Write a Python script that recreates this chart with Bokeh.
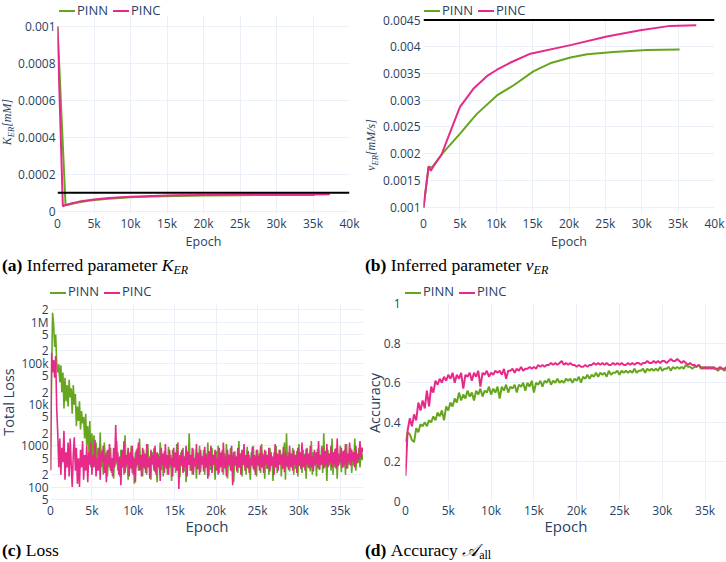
from bokeh.plotting import figure
from bokeh.models import FixedTicker, Range1d, Div, Span
from bokeh.layouts import column, row
from bokeh.embed import file_html
from bokeh.resources import INLINE

SERIES = ["PINN", "PINC"]
GREEN = "#66a61e"
PINK = "#e7298a"
TXT = "#2a3f5f"
GRID = "#ebf0f8"
FONT = "Open Sans"

# ---------------- (a) inferred K_ER ----------------
K_TRUE = 0.0001
K_PINN_EPOCH = [0, 1100, 1300, 2000, 3000, 4000, 5000, 7000, 10000, 13000, 16000, 20000, 25000, 30000, 35200]
K_PINN = [0.001, 0.000032, 0.000033, 0.00004, 0.000048, 0.000055, 0.00006, 0.000068, 0.000075,
          0.00008, 0.000083, 0.000085, 0.000087, 0.000088, 0.000088]
K_PINC_EPOCH = [0, 730, 1000, 1500, 2000, 3000, 4000, 5000, 7000, 10000, 13000, 16000, 20000, 25000, 30000, 35000, 37300]
K_PINC = [0.001, 0.000027, 0.000032, 0.000038, 0.000043, 0.000052, 0.000058, 0.000063, 0.000071,
          0.000078, 0.000083, 0.000086, 0.000088, 0.00009, 0.000091, 0.000091, 0.000092]

# ---------------- (b) inferred nu_ER ----------------
NU_TRUE = 0.0045
NU_PINN_EPOCH = [0, 700, 1150, 2700, 5000, 7300, 10100, 12400, 15100, 17400, 20200, 22500, 26100, 30700, 35200]
NU_PINN = [0.00099, 0.00176, 0.00174, 0.00202, 0.00237, 0.00274, 0.00309, 0.00328, 0.00354,
           0.00369, 0.0038, 0.00386, 0.0039, 0.00394, 0.00395]
NU_PINC_EPOCH = [0, 700, 1000, 1400, 2500, 3200, 5000, 6900, 8700, 10100, 11900, 14700, 20200, 25200, 29800, 33900, 37500]
NU_PINC = [0.00099, 0.00176, 0.00168, 0.00177, 0.00199, 0.00224, 0.00287, 0.00322, 0.00345,
           0.00357, 0.0037, 0.00387, 0.00403, 0.00419, 0.00431, 0.00439, 0.0044]

# ---------------- (c) total loss, read every 125 epochs ----------------
LOSS_STEP = 125
LOSS_PINN = [260, 40000, 1700000, 900000, 250000, 500000, 100000, 60000, 95000,
             35000, 90000, 20000, 60000, 8000, 45000, 12000, 30000,
             9000, 40000, 15000, 25000, 6000, 30000, 10000, 18000,
             3000, 9000, 4000, 12000, 2500, 7000, 3500, 5000,
             1500, 6000, 1000, 3000, 700, 4000, 300, 2000,
             500, 1800, 400, 1200, 250, 900, 350, 2100,
             300, 800, 200, 1200, 400, 700, 180, 600,
             300, 900, 220, 500, 160, 700, 350, 1300, 250, 450,
             180, 800, 400, 600, 200, 1800, 300, 500, 150, 650,
             380, 1000, 220, 550, 120, 700, 300, 900, 250, 1500,
             350, 600, 180, 800, 280, 450, 200, 1100, 320, 550,
             150, 700, 400, 900, 230, 500, 130, 650, 300, 1200,
             260, 550, 180, 750, 350, 500, 200, 950, 300, 600,
             140, 800, 380, 650, 220, 1100, 300, 500, 170, 700,
             330, 900, 240, 550, 130, 750, 350, 2000, 250, 600,
             200, 850, 320, 500, 160, 700, 280, 1000, 230, 550,
             380, 800, 200, 650, 300, 1200, 180, 500, 260, 900,
             340, 600, 150, 750, 300, 1000, 220, 550, 350, 800,
             200, 650, 280, 1100, 160, 500, 320, 900, 240, 600,
             130, 750, 380, 550, 220, 1300, 300, 650, 180, 800,
             340, 500, 200, 950, 280, 600, 150, 700, 320, 1000,
             240, 550, 180, 800, 350, 650, 220, 1100, 300, 500,
             160, 750, 280, 600, 200, 900, 330, 550, 140, 700,
             300, 1000, 220, 600, 350, 800, 180, 650, 280, 1200,
             150, 2000, 300, 700, 240, 550, 330, 900, 200, 600,
             280, 750, 180, 1100, 320, 500, 220, 800, 350, 650,
             160, 900, 300, 550, 240, 1300, 200, 700, 330, 600,
             180, 850, 280, 500, 350, 1000, 220, 2000, 300, 650,
             140, 800, 330, 600, 250, 1500, 200, 700, 300, 900,
             160, 650, 350, 1000, 230, 600, 300, 800, 200, 1100,
             280, 550, 350, 900, 220, 700, 330, 1500, 250, 600,
             380, 900, 300, 700, 450, 650]
LOSS_PINC = [250, 180000, 60000, 120000, 45000, 150000, 8000, 2000, 300,
             1500, 200, 900, 400, 2300, 150, 700, 300,
             1200, 180, 1500, 350, 100, 600, 1600, 250,
             900, 120, 500, 100, 800, 300, 1300, 150,
             600, 250, 1000, 130, 700, 350, 1200, 200,
             600, 300, 1400, 180, 500, 250, 900, 150, 700, 400,
             1000, 220, 600, 130, 800, 350, 1100, 250, 500, 180,
             900, 300, 3200, 400, 700, 200, 550, 110, 800, 300,
             1300, 220, 600, 350, 900, 180, 700, 280, 1000, 200,
             500, 130, 800, 350, 1200, 250, 600, 180, 900, 300,
             650, 220, 1100, 300, 500, 160, 800, 350, 600, 250,
             1000, 200, 700, 300, 550, 140, 900, 350, 650, 220,
             1100, 280, 600, 200, 800, 350, 500, 180, 900, 300,
             700, 250, 1200, 90, 600, 330, 800, 220, 550, 300,
             1000, 180, 700, 350, 600, 250, 900, 200, 500, 320,
             1100, 270, 650, 200, 800, 350, 550, 240, 950, 300,
             600, 160, 750, 330, 1000, 220, 600, 350, 800, 250,
             500, 200, 900, 300, 700, 230, 1200, 300, 550, 180,
             800, 350, 600, 250, 1000, 110, 700, 330, 550, 240,
             900, 300, 650, 200, 800, 350, 1100, 250, 600, 300,
             750, 220, 500, 350, 950, 270, 600, 200, 800, 330,
             550, 250, 1000, 300, 650, 220, 800, 350, 600, 280,
             900, 240, 700, 330, 550, 200, 1100, 300, 650, 250,
             800, 350, 600, 280, 950, 230, 700, 320, 550, 260,
             1000, 300, 650, 250, 800, 350, 600, 220, 900, 330,
             700, 270, 1200, 300, 600, 250, 850, 350, 650, 280,
             1000, 300, 550, 240, 800, 350, 700, 300, 1300, 260,
             600, 350, 900, 280, 750, 330, 1100, 300, 650, 380,
             1000, 300, 700, 350, 850, 280, 1500, 320, 600, 400,
             900, 300, 750, 350, 1100, 280, 650, 400, 1200, 330,
             800, 420, 700, 300, 1000, 380, 650, 450, 1300, 500,
             900, 700]

# ---------------- (d) accuracy, read every 250 epochs ----------------
ACC_STEP = 250
ACC_PINN = [0.30, 0.35, 0.34, 0.31, 0.30, 0.37, 0.35, 0.39, 0.38, 0.40,
            0.38, 0.41, 0.40, 0.43, 0.41, 0.45, 0.43, 0.46, 0.41, 0.48,
            0.46, 0.50, 0.48, 0.52, 0.50, 0.55, 0.51, 0.54, 0.52, 0.56,
            0.53, 0.55, 0.51, 0.56, 0.54, 0.57, 0.53, 0.56, 0.55, 0.58,
            0.54, 0.57, 0.55, 0.58, 0.52, 0.58, 0.56, 0.59, 0.55, 0.58,
            0.57, 0.59, 0.55, 0.59, 0.58, 0.60, 0.56, 0.60, 0.58, 0.61,
            0.55, 0.60, 0.59, 0.61, 0.58, 0.61, 0.60, 0.62, 0.59, 0.61,
            0.60, 0.62, 0.60, 0.61, 0.60, 0.62, 0.61, 0.62, 0.60, 0.62,
            0.61, 0.63, 0.60, 0.63, 0.62, 0.64, 0.62, 0.64, 0.63, 0.65,
            0.63, 0.65, 0.64, 0.65, 0.63, 0.66, 0.64, 0.65, 0.65, 0.66,
            0.64, 0.66, 0.65, 0.66, 0.65, 0.66, 0.65, 0.67, 0.65, 0.66,
            0.66, 0.67, 0.65, 0.67, 0.66, 0.67, 0.66, 0.67, 0.66, 0.68,
            0.66, 0.67, 0.67, 0.68, 0.66, 0.68, 0.67, 0.68, 0.67, 0.68,
            0.67, 0.69, 0.68, 0.68, 0.67, 0.68, 0.68, 0.69, 0.67, 0.68,
            0.67, 0.68, 0.67, 0.68, 0.67, 0.67, 0.66, 0.67, 0.67, 0.66,
            0.67, 0.66]
ACC_PINC = [0.13, 0.36, 0.42, 0.38, 0.44, 0.41, 0.50, 0.46, 0.51, 0.47,
            0.56, 0.48, 0.58, 0.55, 0.61, 0.59, 0.62, 0.60, 0.63, 0.61,
            0.64, 0.62, 0.65, 0.60, 0.64, 0.62, 0.65, 0.57, 0.64, 0.63,
            0.65, 0.61, 0.65, 0.63, 0.66, 0.58, 0.65, 0.64, 0.66, 0.63,
            0.65, 0.64, 0.66, 0.65, 0.66, 0.64, 0.67, 0.62, 0.66, 0.66,
            0.67, 0.65, 0.67, 0.66, 0.68, 0.66, 0.67, 0.67, 0.68, 0.67,
            0.68, 0.67, 0.69, 0.68, 0.69, 0.68, 0.69, 0.69, 0.70, 0.69,
            0.70, 0.69, 0.70, 0.71, 0.69, 0.70, 0.69, 0.70, 0.69, 0.69,
            0.68, 0.69, 0.68, 0.68, 0.69, 0.68, 0.69, 0.69, 0.70, 0.69,
            0.70, 0.69, 0.70, 0.69, 0.70, 0.69, 0.69, 0.70, 0.69, 0.70,
            0.69, 0.70, 0.69, 0.69, 0.70, 0.69, 0.70, 0.69, 0.70, 0.70,
            0.69, 0.70, 0.70, 0.71, 0.70, 0.70, 0.71, 0.70, 0.71, 0.70,
            0.71, 0.71, 0.70, 0.71, 0.72, 0.71, 0.71, 0.72, 0.71, 0.70,
            0.71, 0.70, 0.69, 0.70, 0.69, 0.69, 0.68, 0.69, 0.68, 0.67,
            0.68, 0.67, 0.68, 0.67, 0.68, 0.67, 0.67, 0.68, 0.67, 0.67,
            0.68, 0.67]

# ---------------- ticks ----------------
X_TICKS_40 = [0, 5000, 10000, 15000, 20000, 25000, 30000, 35000, 40000]
X_LABELS_40 = ["0", "5k", "10k", "15k", "20k", "25k", "30k", "35k", "40k"]
X_TICKS_35 = X_TICKS_40[:-1]
X_LABELS_35 = X_LABELS_40[:-1]
K_TICKS = [0, 0.0002, 0.0004, 0.0006, 0.0008, 0.001]
K_LABELS = ["0", "0.0002", "0.0004", "0.0006", "0.0008", "0.001"]
NU_TICKS = [0.001, 0.0015, 0.002, 0.0025, 0.003, 0.0035, 0.004, 0.0045]
NU_LABELS = ["0.001", "0.0015", "0.002", "0.0025", "0.003", "0.0035", "0.004", "0.0045"]
LOSS_TICKS = [50, 100, 200, 500, 1000, 2000, 5000, 10000, 20000, 50000,
              100000, 200000, 500000, 1000000, 2000000]
LOSS_LABELS = ["5", "100", "2", "5", "1000", "2", "5", "10k", "2", "5",
               "100k", "2", "5", "1M", "2"]
ACC_TICKS = [0, 0.2, 0.4, 0.6, 0.8, 1]
ACC_LABELS = ["0", "0.2", "0.4", "0.6", "0.8", "1"]


def make_fig(w, h, left, right, top, bottom, xr, yr, y_type="linear"):
    p = figure(width=w, height=h, output_backend="svg", toolbar_location=None,
               x_range=xr, y_range=yr, y_axis_type=y_type, title=None,
               min_border_left=left, min_border_right=right,
               min_border_top=top, min_border_bottom=bottom)
    p.outline_line_color = None
    p.background_fill_color = None
    p.border_fill_color = None
    for ax in p.axis:
        ax.axis_line_color = None
        ax.major_tick_line_color = None
        ax.minor_tick_line_color = None
        ax.major_tick_out = 0
        ax.major_tick_in = 0
        ax.minor_tick_out = 0
        ax.minor_tick_in = 0
        ax.major_label_text_color = TXT
        ax.major_label_text_font = FONT
        ax.major_label_text_font_size = "12px"
        ax.axis_label_text_color = TXT
        ax.axis_label_text_font = FONT
        ax.axis_label_text_font_style = "normal"
    p.grid.grid_line_color = GRID
    p.grid.grid_line_width = 1
    return p


def set_ticks(axis, ticks, labels):
    axis.ticker = FixedTicker(ticks=ticks)
    axis.major_label_overrides = {t: l for t, l in zip(ticks, labels)}


def legend_div(width, height, left, top):
    def swatch(color, ml):
        return (f'<span style="display:inline-block;width:16px;height:2px;background:{color};'
                f'vertical-align:middle;margin-left:{ml}px;margin-right:2px;"></span>')
    html = (f'<div style="position:relative;left:{left}px;top:{top}px;white-space:nowrap;'
            f'font-family:\'{FONT}\';font-size:13px;line-height:12px;color:{TXT};">'
            f'{swatch(GREEN, 0)}{SERIES[0]}{swatch(PINK, 5)}{SERIES[1]}</div>')
    return Div(text=html, width=width, height=height, margin=0)


def ylabel_div(width, height, cx, cy, html, font, size, italic):
    st = "font-style:italic;" if italic else ""
    inner = (f'<div style="position:relative;width:{width}px;height:{height}px;">'
             f'<div style="position:absolute;left:{cx}px;top:{cy}px;'
             f'transform:translate(-50%,-50%) rotate(-90deg);white-space:nowrap;'
             f'font-family:\'{font}\';{st}font-size:{size}px;line-height:{size}px;color:{TXT};">'
             f'{html}</div></div>')
    return Div(text=inner, width=width, height=height, margin=0)


def er_label(main, rest):
    return f'{main}<span style="font-size:8.5px;position:relative;top:2.5px;">ER</span>{rest}'


# ---------------- figure (a) ----------------
fa = make_fig(351, 241, 45, 14, 3, 40, Range1d(0, 40000), Range1d(-0.0000124, 0.0010596))
set_ticks(fa.xaxis[0], X_TICKS_40, X_LABELS_40)
set_ticks(fa.yaxis[0], K_TICKS, K_LABELS)
fa.xaxis.axis_label = "Epoch"
fa.xaxis.axis_label_text_font_size = "12.5px"
fa.xaxis.major_label_standoff = 1
fa.xaxis.axis_label_standoff = -2
fa.yaxis.major_label_standoff = 2
fa.add_layout(Span(location=K_TRUE, dimension="width", line_color="black", line_width=2))
fa.line(K_PINN_EPOCH, K_PINN, line_color=GREEN, line_width=2)
fa.line(K_PINC_EPOCH, K_PINC, line_color=PINK, line_width=2)

# ---------------- figure (b) ----------------
fb = make_fig(351, 241, 48, 12, 6, 40, Range1d(0, 40000), Range1d(0.000882, 0.004528))
set_ticks(fb.xaxis[0], X_TICKS_40, X_LABELS_40)
set_ticks(fb.yaxis[0], NU_TICKS, NU_LABELS)
fb.xaxis.axis_label = "Epoch"
fb.xaxis.axis_label_text_font_size = "12.5px"
fb.xaxis.major_label_standoff = 1
fb.xaxis.axis_label_standoff = -2
fb.yaxis.major_label_standoff = 3
fb.add_layout(Span(location=NU_TRUE, dimension="width", line_color="black", line_width=2))
fb.line(NU_PINN_EPOCH, NU_PINN, line_color=GREEN, line_width=2)
fb.line(NU_PINC_EPOCH, NU_PINC, line_color=PINK, line_width=2)

# ---------------- figure (c) ----------------
fc = make_fig(345, 242, 31, 0, 7, 37, Range1d(0, 37800), Range1d(44.5, 2.84e6), y_type="log")
set_ticks(fc.xaxis[0], X_TICKS_35, X_LABELS_35)
set_ticks(fc.yaxis[0], LOSS_TICKS, LOSS_LABELS)
fc.xaxis.axis_label = "Epoch"
fc.xaxis.axis_label_text_font_size = "15px"
fc.xaxis.major_label_standoff = 0
fc.xaxis.axis_label_standoff = -6
fc.yaxis.major_label_standoff = 2
loss_x_pinn = [LOSS_STEP * i for i in range(len(LOSS_PINN))]
loss_x_pinc = [LOSS_STEP * i for i in range(len(LOSS_PINC))]
fc.line(loss_x_pinn, LOSS_PINN, line_color=GREEN, line_width=1.6)
fc.line(loss_x_pinc, LOSS_PINC, line_color=PINK, line_width=1.6)

# ---------------- figure (d) ----------------
fd = make_fig(346, 242, 23, 0, 7, 37, Range1d(0, 37500), Range1d(0, 1))
set_ticks(fd.xaxis[0], X_TICKS_35, X_LABELS_35)
set_ticks(fd.yaxis[0], ACC_TICKS, ACC_LABELS)
fd.xaxis.axis_label = "Epoch"
fd.xaxis.axis_label_text_font_size = "15px"
fd.xaxis.major_label_standoff = 0
fd.xaxis.axis_label_standoff = -6
fd.yaxis.major_label_standoff = 5
acc_x_pinn = [ACC_STEP * i for i in range(len(ACC_PINN))]
acc_x_pinc = [ACC_STEP * i for i in range(len(ACC_PINC))]
fd.line(acc_x_pinn, ACC_PINN, line_color=GREEN, line_width=2)
fd.line(acc_x_pinc, ACC_PINC, line_color=PINK, line_width=2)


# ---------------- captions ----------------
def caption(html, h, top):
    inner = (f'<div style="position:relative;left:2px;top:{top}px;white-space:nowrap;'
             f'font-family:\'Liberation Serif\';font-size:17.5px;line-height:13px;color:black;">{html}</div>')
    return Div(text=inner, width=363, height=h, margin=0)


def sub(t, italic=True):
    st = "font-style:italic;" if italic else ""
    return f'<span style="{st}font-size:12px;position:relative;top:3px;">{t}</span>'


cap_a = caption('<b>(a)</b>&nbsp;Inferred parameter <i>K</i>' + sub("ER"), 27, 6)
cap_b = caption('<b>(b)</b>&nbsp;Inferred parameter <i>ν</i>' + sub("ER"), 27, 6)
cap_c = caption('<b>(c)</b>&nbsp;Loss', 24, 5.5)
cap_d = caption('<b>(d)</b>&nbsp;Accuracy <i>𝒜</i>' + sub("all", False), 24, 5.5)

block_a = column(legend_div(363, 12, 59, 2.5),
                 row(ylabel_div(12, 241, 6.7, 109.7, er_label("K", "[mM]"), "Liberation Serif", 12, True), fa))
block_b = column(legend_div(363, 12, 61, 2.5),
                 row(ylabel_div(12, 241, 7.5, 133, er_label("ν", "[mM/s]"), "Liberation Serif", 12, True), fb))
block_c = column(legend_div(363, 16, 50, 4),
                 row(ylabel_div(18, 242, 9, 105.7, "Total Loss", FONT, 14.5, False), fc))
block_d = column(legend_div(363, 16, 42, 4),
                 row(ylabel_div(17, 242, 12, 107, "Accuracy", FONT, 14.5, False), fd))

layout = column(row(block_a, block_b), row(cap_a, cap_b), row(block_c, block_d), row(cap_c, cap_d))
open("out.html", "w").write(file_html(layout, INLINE))
